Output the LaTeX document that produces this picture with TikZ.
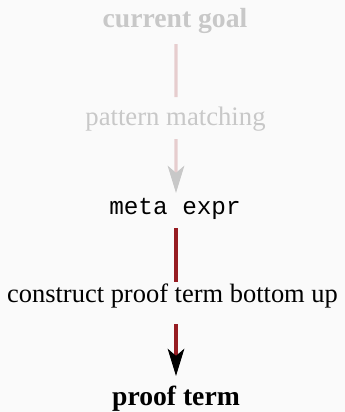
\documentclass[tikz,border=0pt]{standalone}
\usepackage{fontspec}
\setmainfont{Liberation Serif}
\setmonofont{Liberation Mono}
\usetikzlibrary{arrows.meta}
\definecolor{flowred}{RGB}{150,28,34}
\definecolor{pagebg}{RGB}{250,250,250}
\tikzset{
  stage/.style={inner sep=0pt, anchor=base, text=black},
  faded/.style={opacity=0.2, transparency group},
  link/.style={draw=flowred, line width=1.4pt},
  tip/.style={-{Stealth[black, length=11.5pt, width=7pt, inset=3pt]}},
}
\begin{document}
\begin{tikzpicture}[x=0.4232pt,y=-0.4232pt]
  \fill[pagebg] (0,0) rectangle (345,412);
  \useasboundingbox (0,0) rectangle (345,412);
  % earlier stages, greyed out
  \begin{scope}[faded]
    \node[stage, font=\fontsize{11.7}{14}\selectfont\bfseries] (goal) at (175,27) {current goal};
    \node[stage, font=\fontsize{11.3}{14}\selectfont] (match) at (175.5,125) {pattern matching};
    \coordinate (g1) at (176,44);
    \coordinate (g2) at (176,97);
    \coordinate (m1) at (176,139);
    \coordinate (m2) at (176,193);
    \draw[link] (g1) -- (g2);
    \draw[link, tip] (m1) -- (m2);
  \end{scope}
  % current stage
  \node[stage, font=\fontsize{10.3}{13}\selectfont\ttfamily] (meta) at (175,214) {meta expr};
  \node[stage, font=\fontsize{11.2}{14}\selectfont] (build) at (172.5,302) {construct proof term bottom up};
  \node[stage, font=\fontsize{11.7}{14}\selectfont\bfseries] (term) at (176,405) {proof term};
  \coordinate (e1) at (176,228);
  \coordinate (e2) at (176,282);
  \coordinate (b1) at (176,324);
  \coordinate (b2) at (176,376);
  \draw[link] (e1) -- (e2);
  \draw[link, tip] (b1) -- (b2);
\end{tikzpicture}
\end{document}
